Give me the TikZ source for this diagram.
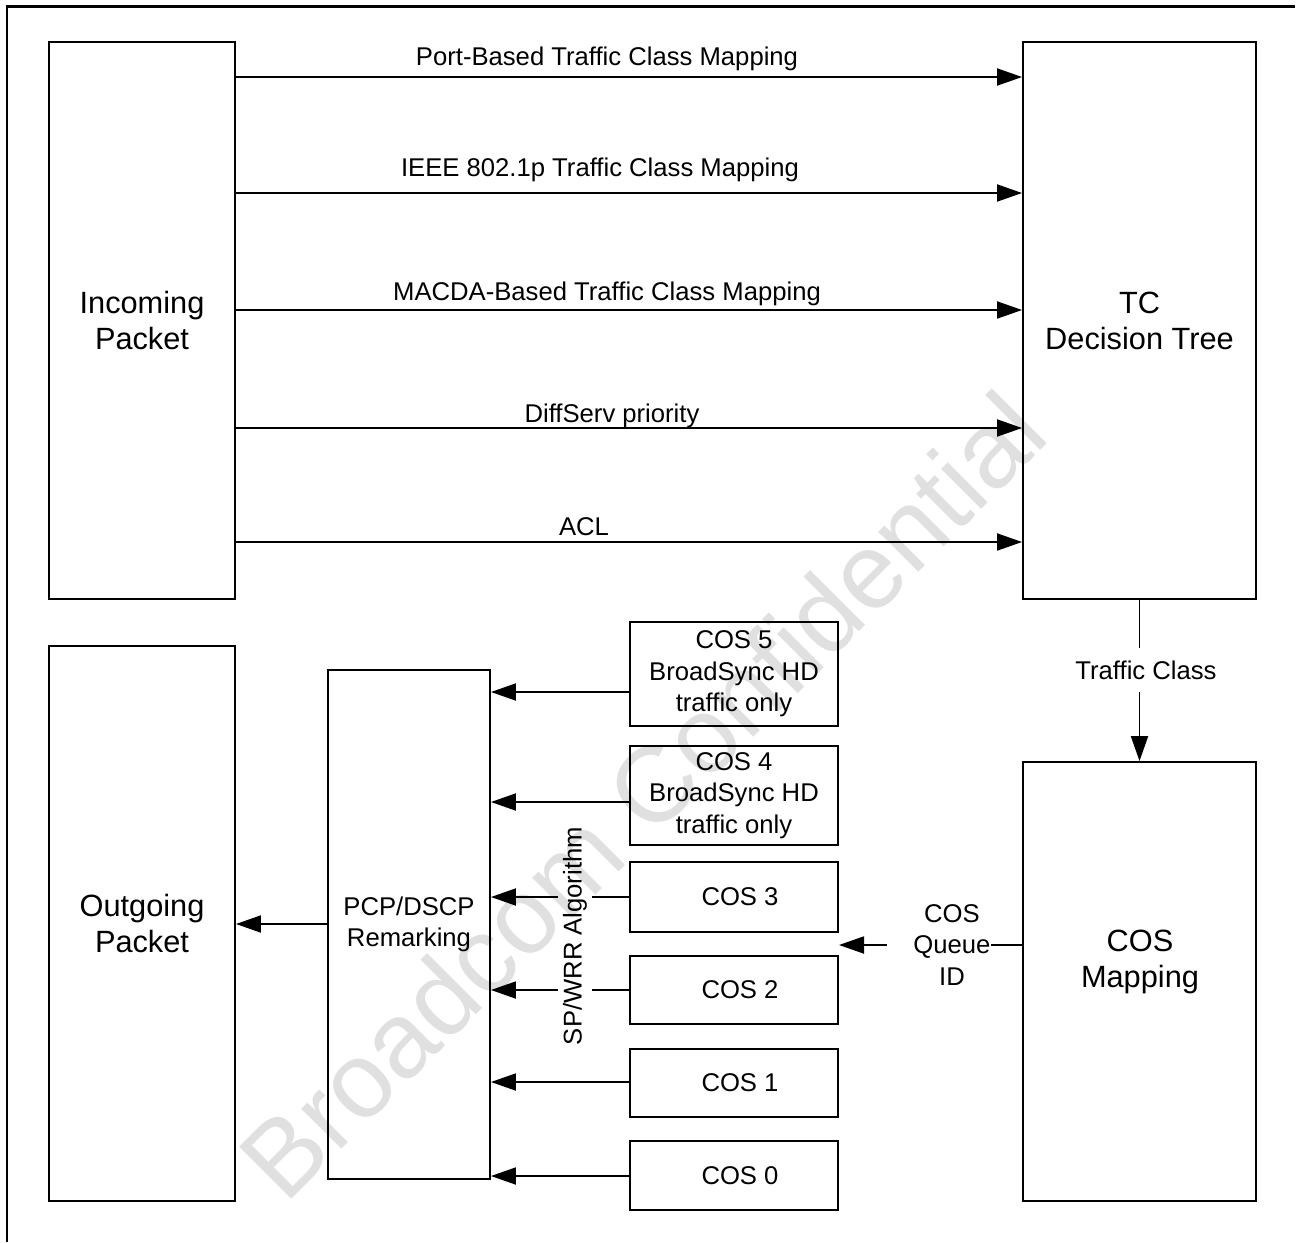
\documentclass[tikz,border=0pt]{standalone}
\usepackage{fontspec}
\setmainfont{Liberation Sans}
\usetikzlibrary{arrows.meta}
\begin{document}
\begin{tikzpicture}[x=0.02cm,y=-0.02cm,
  box/.style={draw, line width=1.1pt, inner sep=0pt, align=center},
  arr/.style={line width=1.1pt, -{Triangle[length=0.5cm,width=0.34cm]}},
  lbl/.style={font=\fontsize{14.6}{17.9}\selectfont, inner sep=0pt, align=center},
  big/.style={font=\fontsize{17.5}{20.4}\selectfont, align=center},
  frameline/.style={line width=1.7pt},
  wmark/.style={opacity=0.12, font=\fontsize{61}{72}\selectfont, inner sep=0pt},
]
\useasboundingbox (0,0) rectangle (1299,1242);
% frame (top and left edges)
\coordinate (fa) at (7,1242);
\coordinate (fb) at (7,6);
\coordinate (fc) at (1295,6);
\draw[frameline] (fa) -- (fb) -- (fc);

% upper boxes
\node[box, big, minimum width=3.72cm, minimum height=11.14cm] (inc) at (142,320.5) {Incoming\\Packet};
\node[box, big, minimum width=4.66cm, minimum height=11.14cm] (tc) at (1139.5,320.5) {TC\\Decision Tree};

% mapping arrows
\foreach \y/\x/\d/\t in {77/607/12/{Port-Based Traffic Class Mapping},
                         193/600/17/{IEEE 802.1p Traffic Class Mapping},
                         310/607/10/{MACDA-Based Traffic Class Mapping},
                         428/612/6/{DiffServ priority},
                         542/584/7/{ACL}}{
  \draw[arr] (inc.east |- 0,\y) -- (tc.west |- 0,\y);
  \node[lbl, anchor=base] (lab\y) at (\x,{\y-\d}) {\t};
}

% lower boxes
\node[box, big, minimum width=3.72cm, minimum height=11.1cm] (out) at (142,923.5) {Outgoing\\Packet};
\node[box, lbl, minimum width=3.24cm, minimum height=10.18cm] (rem) at (409,924.5) {PCP/DSCP\\Remarking};
\node[box, lbl, minimum width=4.16cm, minimum height=2.08cm] (c5) at (734,674) {COS 5\\BroadSync HD\\traffic only};
\node[box, lbl, minimum width=4.16cm, minimum height=1.98cm] (c4) at (734,795.5) {COS 4\\BroadSync HD\\traffic only};
\node[box, lbl, minimum width=4.16cm, minimum height=1.40cm] (c3) at (734,897) {\hspace*{0.24cm}COS 3};
\node[box, lbl, minimum width=4.16cm, minimum height=1.36cm] (c2) at (734,990) {\hspace*{0.24cm}COS 2};
\node[box, lbl, minimum width=4.16cm, minimum height=1.36cm] (c1) at (734,1083) {\hspace*{0.24cm}COS 1};
\node[box, lbl, minimum width=4.16cm, minimum height=1.38cm] (c0) at (734,1175.5) {\hspace*{0.24cm}COS 0};
\node[box, minimum width=4.66cm, minimum height=8.78cm] (map) at (1139.5,981.5) {};
\node[big] (maptext) at (1140,962) {COS\\Mapping};

% COS queues to remarking
\foreach \n/\y in {c5/692, c4/802, c3/897, c2/990, c1/1082, c0/1176}{
  \draw[arr] (\n.west |- 0,\y) -- (rem.east |- 0,\y);
}
\draw[arr] (rem.west |- 0,924) -- (out.east |- 0,924);

\node[lbl, rotate=90, fill=white, inner sep=0.1cm] (sp) at (575,936) {SP/WRR Algorithm};

% TC -> COS mapping
\draw[arr] (tc.south) -- (map.north);
\node[lbl, fill=white, inner xsep=0.05cm, inner ysep=0.26cm] (tcl) at (1146,670) {Traffic Class};

% COS queue id
\node[lbl] (qid) at (952,945) {COS\\Queue\\ID};
\coordinate (qtip) at (839,945);
\draw[line width=1.1pt] (map.west |- qid) -- (qid.east);
\draw[arr] ([xshift=-0.53cm]qid.west) -- (qtip);

% watermark
\node[wmark, rotate=45] (wm) at (642,795) {Broadcom Confidential};
\end{tikzpicture}
\end{document}
